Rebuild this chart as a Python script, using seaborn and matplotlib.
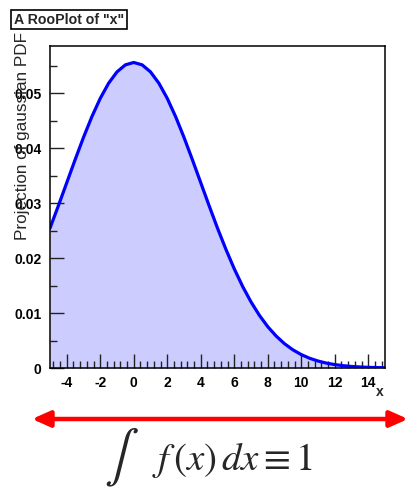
import matplotlib
matplotlib.use("Agg")
import matplotlib.pyplot as plt
from matplotlib.ticker import MultipleLocator, FixedLocator
import seaborn as sns
import pandas as pd

# ---- data ----
x_vals = [-5.0, -4.5, -4.0, -3.5, -3.0, -2.5, -2.0, -1.5, -1.0, -0.5,
          0.0, 0.5, 1.0, 1.5, 2.0, 2.5, 3.0, 3.5, 4.0, 4.5,
          5.0, 5.5, 6.0, 6.5, 7.0, 7.5, 8.0, 8.5, 9.0, 9.5,
          10.0, 10.5, 11.0, 11.5, 12.0, 12.5, 13.0, 13.5, 14.0, 14.5, 15.0]
pdf_vals = [0.02545, 0.02953, 0.03372, 0.03791, 0.04197, 0.04574, 0.04907, 0.05183, 0.05389, 0.05517,
            0.05560, 0.05517, 0.05389, 0.05183, 0.04907, 0.04574, 0.04197, 0.03791, 0.03372, 0.02953,
            0.02545, 0.02161, 0.01805, 0.01485, 0.01203, 0.00959, 0.00752, 0.00582, 0.00442, 0.00331,
            0.00244, 0.00177, 0.00127, 0.00089, 0.00062, 0.00042, 0.00028, 0.00019, 0.00012, 0.00008, 0.00005]
x_ticks = [-4, -2, 0, 2, 4, 6, 8, 10, 12, 14]
y_ticks = [0, 0.01, 0.02, 0.03, 0.04, 0.05]
y_tick_labels = ["0", "0.01", "0.02", "0.03", "0.04", "0.05"]
title_text = 'A RooPlot of "x"'
y_label = "Projection of gaussian PDF"
x_label = "x"

df = pd.DataFrame({"x": x_vals, "pdf": pdf_vals})

sns.set_theme(style="ticks")
plt.rcParams["font.family"] = ["Liberation Sans", "DejaVu Sans"]
plt.rcParams["mathtext.fontset"] = "stix"

W, H = 409, 487
fig = plt.figure(figsize=(W / 100, H / 100), dpi=100, facecolor="white")
ax = fig.add_axes([50 / W, 1 - 368 / H, 335 / W, 322 / H])
ax.set_facecolor("white")
ax.set_axisbelow(False)

ax.fill_between(df["x"], 0, df["pdf"], color="#CCCCFF", linewidth=0, zorder=1)
sns.lineplot(data=df, x="x", y="pdf", ax=ax, color="#0000FF", linewidth=2.3, zorder=3)

ax.set_xlim(-5, 15)
ax.set_ylim(0, 0.0586)
ax.xaxis.set_major_locator(FixedLocator(x_ticks))
ax.xaxis.set_minor_locator(MultipleLocator(0.4))
ax.yaxis.set_major_locator(FixedLocator(y_ticks))
ax.yaxis.set_minor_locator(MultipleLocator(0.005))
ax.set_yticklabels(y_tick_labels)
ax.set_xticklabels([str(t) for t in x_ticks])
ax.tick_params(which="both", direction="in", top=False, right=False, colors="#222222",
               labelcolor="black", width=1.0)
ax.tick_params(which="major", length=10, labelsize=10, pad=6)
ax.tick_params(which="minor", length=5)
for lab in ax.get_xticklabels() + ax.get_yticklabels():
    lab.set_fontweight("bold")
for sp in ax.spines.values():
    sp.set_visible(True)
    sp.set_color("black")
    sp.set_linewidth(1.1)
    sp.set_zorder(4)
ax.set_xlabel("")
ax.set_ylabel("")

fig.text(380 / W, 1 - 392 / H, x_label, fontsize=10, fontweight="bold", ha="center", va="center")
fig.text(23 / W, 1 - 240 / H, y_label, fontsize=12.3, rotation=90, ha="center", va="bottom")

fig.text(14 / W, 1 - 19.5 / H, title_text, fontsize=10.2, fontweight="bold", ha="left", va="center",
         bbox=dict(boxstyle="square,pad=0.18", facecolor="white", edgecolor="black", linewidth=1.2))

ax.annotate("", xy=(408 / W, 1 - 419 / H), xytext=(32 / W, 1 - 419 / H),
            xycoords="figure fraction", textcoords="figure fraction",
            arrowprops=dict(arrowstyle="<|-|>,head_length=0.9,head_width=0.4", color="#FF0000",
                            lw=3.2, shrinkA=0, shrinkB=0), annotation_clip=False)

fig.text(121 / W, 1 - 458 / H, r"$\int$", fontsize=37, ha="center", va="center")
fig.text(232 / W, 1 - 460 / H, r"$f\,(x)\,dx \equiv 1$", fontsize=28, ha="center", va="center")

fig.savefig("out.png", dpi=100, facecolor="white")
